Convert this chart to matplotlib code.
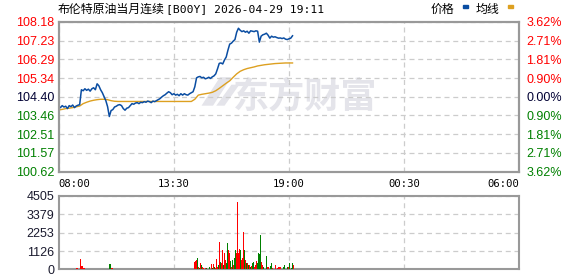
import numpy as np
import matplotlib
matplotlib.use("Agg")
import matplotlib.pyplot as plt
from matplotlib.patches import Polygon

plt.rcParams['font.family'] = ['Liberation Sans', 'Noto Sans CJK SC', 'DejaVu Sans']

##Data
title_cn = "布伦特原油当月连续"
title_code = "[B00Y] 2026-04-29 19:11"
time_labels = ["08:00", "13:30", "19:00", "00:30", "06:00"]
price_ticks = [108.18, 107.23, 106.29, 105.34, 104.40, 103.46, 102.51, 101.57, 100.62]
pct_labels = ["3.62%", "2.71%", "1.81%", "0.90%", "0.00%", "0.90%", "1.81%", "2.71%", "3.62%"]
vol_ticks = [0, 1126, 2253, 3379, 4505]

# price every 5 minutes from 08:00
price = [103.90, 103.85, 103.95, 103.88, 103.92, 103.80, 103.95, 103.90, 103.98, 103.85,
         103.93, 103.97, 104.00, 104.75, 104.70, 104.80, 104.72, 104.78, 104.68, 104.80,
         104.85, 104.75, 105.05, 104.95, 104.75, 104.60, 104.40, 104.20, 103.90, 103.40,
         103.70, 103.75, 103.88, 103.92, 103.98, 104.00, 103.95, 103.80, 103.72, 103.82,
         103.85, 103.95, 104.05, 104.02, 104.08, 104.10, 104.05, 104.12, 104.10, 104.15,
         104.12, 104.18, 104.15, 104.10, 104.18, 104.15, 104.20, 104.25, 104.30, 104.38,
         104.45, 104.50, 104.58, 104.65, 104.60, 104.50, 104.55, 104.48, 104.52, 104.45,
         104.55, 104.48, 104.55, 104.50, 104.48, 104.55, 104.60, 104.65, 104.90, 105.35,
         105.40, 105.42, 105.35, 105.38, 105.30, 105.33, 105.38, 105.32, 105.40, 105.45,
         105.55, 105.80, 106.08, 106.10, 106.05, 106.25, 106.40, 106.75, 107.05, 107.10,
         107.20, 107.28, 107.65, 107.85, 107.75, 107.68, 107.72, 107.65, 107.70, 107.60,
         107.72, 107.70, 107.68, 107.72, 107.70, 107.15, 107.45, 107.52, 107.55, 107.60,
         107.50, 107.35, 107.45, 107.40, 107.42, 107.38, 107.35, 107.36, 107.33, 107.36,
         107.30, 107.28, 107.32, 107.35, 107.47]

# average price every 10 minutes
avg_price = [103.73, 103.76, 103.80, 103.82, 103.85, 103.89, 103.93, 104.05, 104.12, 104.18,
             104.22, 104.25, 104.27, 104.27, 104.25, 104.20, 104.17, 104.16, 104.16, 104.16,
             104.16, 104.16, 104.16, 104.16, 104.16, 104.16, 104.16, 104.16, 104.16, 104.16,
             104.16, 104.16, 104.16, 104.16, 104.16, 104.16, 104.16, 104.16, 104.16, 104.27,
             104.48, 104.52, 104.55, 104.58, 104.62, 104.70, 104.82, 104.95, 105.08, 105.20,
             105.38, 105.55, 105.68, 105.76, 105.82, 105.86, 105.90, 105.95, 105.98, 106.01,
             106.03, 106.05, 106.07, 106.08, 106.09, 106.10, 106.10, 106.10]

# quiet session volume, every 5 minutes (1 = up/red, 0 = down/green)
vol_quiet = [40, 40, 40, 40, 40, 40, 40, 40, 40, 40, 120, 40, 650, 230, 120, 40, 40, 40, 40, 40,
             40, 40, 40, 40, 40, 40, 40, 40, 40, 340, 100, 40, 40, 40, 40, 40, 40, 40, 40, 40,
             40, 40, 40, 40, 40, 40, 40, 40, 40, 40, 40, 40, 40, 40, 40, 40, 40, 40, 40, 40,
             40, 40, 40, 40, 40, 40, 40, 40, 40, 40, 40, 40, 40, 40, 40]
up_quiet = [1, 1, 1, 1, 1, 1, 1, 1, 1, 1, 1, 1, 1, 1, 1, 0, 0, 1, 0, 0,
            0, 0, 0, 0, 0, 1, 1, 1, 1, 0, 1, 1, 1, 1, 1, 1, 1, 1, 1, 1,
            0, 0, 0, 0, 1, 1, 1, 1, 0, 0, 0, 0, 0, 0, 1, 1, 1, 1, 1, 1,
            1, 1, 1, 0, 0, 0, 1, 1, 1, 1, 1, 1, 1, 1, 1]

# busy session volume, about every 3 minutes from 14:15 to 19:11
vol_busy = [40, 40, 40, 40, 460, 520, 580, 710, 170, 120, 375, 250, 170, 80, 60, 80, 80, 60, 60, 170,
            60, 330, 80, 330, 170, 100, 625, 170, 250, 1710, 480, 370, 1210, 270, 1000, 580, 370, 1650, 1170, 1000,
            520, 170, 580, 270, 690, 1170, 1000, 4160, 1000, 1270, 1210, 580, 690, 2280, 1210, 580, 370, 410, 270, 270,
            170, 210, 375, 480, 170, 270, 540, 410, 1000, 960, 2120, 480, 270, 170, 60, 60, 855, 170, 170, 60,
            230, 410, 100, 60, 60, 270, 60, 100, 170, 170, 170, 60, 60, 170, 270, 60, 60, 170, 170, 410,
            60, 100, 410, 270]
up_busy = [1, 1, 1, 1, 1, 1, 1, 0, 1, 0, 1, 0, 1, 1, 1, 1, 0, 1, 1, 0,
           1, 1, 0, 1, 0, 1, 1, 1, 0, 1, 0, 1, 1, 0, 1, 1, 0, 0, 1, 1,
           0, 1, 0, 1, 0, 0, 1, 1, 1, 1, 0, 1, 1, 1, 0, 1, 0, 1, 0, 1,
           0, 1, 0, 0, 1, 1, 1, 0, 0, 0, 0, 1, 1, 0, 1, 1, 0, 1, 1, 0,
           0, 0, 1, 1, 1, 1, 1, 1, 1, 1, 1, 0, 0, 0, 0, 1, 1, 0, 1, 0,
           1, 0, 0, 1]

RED = "#ff0000"
GREEN = "#008000"
GRID = "#cccccc"
FRAME = "#999999"
WM = "#e4e4ea"

t_price = np.arange(len(price)) * 5
t_avg = np.arange(len(avg_price)) * 10
t_quiet = np.arange(len(vol_quiet)) * 5
t_busy = np.linspace(376, 671, len(vol_busy))

fig = plt.figure(figsize=(5.78, 2.76), dpi=100)
ax = fig.add_axes([0.1016, 0.3779, 0.7969, 0.5435])
axv = fig.add_axes([0.1016, 0.0236, 0.7969, 0.2663])

##Price panel
ax.plot(t_price, price, color="#0a4da2", lw=1.1, zorder=3)
ax.plot(t_avg, avg_price, color="#dda020", lw=1.0, zorder=2)
ax.set_xlim(0, 1320)
ax.set_ylim(price_ticks[-1], price_ticks[0])
ax.set_yticks(price_ticks)
ax.set_yticklabels(["%.2f" % p for p in price_ticks], fontsize=9)
left_cols = [RED] * 4 + ["#000033"] + [GREEN] * 4
for lab, c in zip(ax.get_yticklabels(), left_cols):
    lab.set_color(c)
ax.set_xticks([0, 330, 660, 990, 1320])
ax.set_xticklabels(time_labels, fontsize=7.6, family="DejaVu Sans Mono")
xl = ax.get_xticklabels()
xl[0].set_ha("left")
xl[-1].set_ha("right")
ax.tick_params(length=0, pad=3)
ax.tick_params(axis="x", pad=5)
ax.grid(True, color=GRID, ls=(0, (4, 3)), lw=0.9)

axr = ax.twinx()
axr.set_ylim(ax.get_ylim())
axr.set_yticks(price_ticks)
axr.set_yticklabels(pct_labels, fontsize=9)
for lab, c in zip(axr.get_yticklabels(), left_cols):
    lab.set_color(c)
axr.tick_params(length=0, pad=5)

for a in (ax, axr, axv):
    for s in a.spines.values():
        s.set_color(FRAME)
        s.set_linewidth(1.5)

# watermark
ax.text(0.378, 0.50, "东方财富", transform=ax.transAxes, fontsize=26, fontweight="bold",
        color=WM, family=["Noto Sans CJK SC"], va="center", ha="left", zorder=1)
ax.add_patch(Polygon([[0.31, 0.44], [0.35, 0.63], [0.375, 0.63], [0.335, 0.44]],
                     closed=True, transform=ax.transAxes, color=WM, zorder=1, lw=0))
ax.add_patch(Polygon([[0.342, 0.44], [0.375, 0.58], [0.392, 0.58], [0.36, 0.44]],
                     closed=True, transform=ax.transAxes, color=WM, zorder=1, lw=0))

##Volume panel
cq = [RED if u else GREEN for u in up_quiet]
cb = [RED if u else GREEN for u in up_busy]
axv.bar(t_quiet, vol_quiet, width=5, color=cq, align="edge", lw=0, zorder=3)
axv.bar(t_busy, vol_busy, width=2.9, color=cb, align="edge", lw=0, zorder=3)
axv.set_xlim(0, 1320)
axv.set_ylim(0, vol_ticks[-1])
axv.set_yticks(vol_ticks)
axv.set_yticklabels([str(v) for v in vol_ticks], fontsize=9, color="#1a1a2e")
axv.set_xticks([330, 660, 990])
axv.set_xticklabels([])
axv.tick_params(length=0, pad=3)
axv.grid(True, color=GRID, ls=(0, (4, 3)), lw=0.9)
axv.set_axisbelow(True)

##Title and legend
ty = 1 - 9 / 276
fig.text(58 / 578, ty, title_cn, fontsize=8.6, va="center", ha="left",
         family=["Noto Sans CJK SC"])
fig.text(166 / 578, ty, title_code, fontsize=8.2, va="center", ha="left",
         family=["DejaVu Sans Mono"])
fig.text(431 / 578, ty, "价格", fontsize=8.6, va="center", ha="left",
         family=["Noto Sans CJK SC"])
fig.text(476 / 578, ty, "均线", fontsize=8.6, va="center", ha="left",
         family=["Noto Sans CJK SC"])
fig.patches.append(plt.Rectangle((463 / 578, 1 - 8 / 276), 5 / 578, 2.5 / 276,
                                 color="#0a4da2", transform=fig.transFigure, figure=fig))
fig.patches.append(plt.Rectangle((508 / 578, 1 - 8 / 276), 5 / 578, 2.5 / 276,
                                 color="#dda020", transform=fig.transFigure, figure=fig))

fig.savefig("out.png", dpi=100)
